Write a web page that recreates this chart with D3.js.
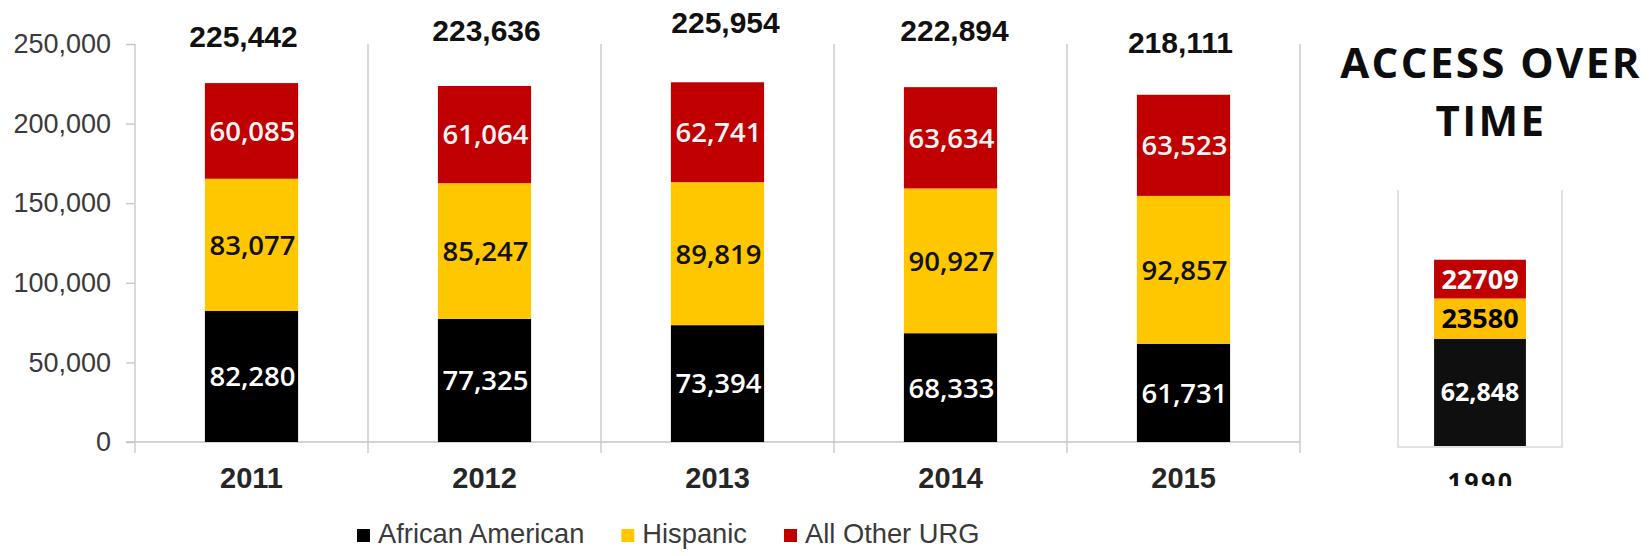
<!DOCTYPE html>
<html>
<head>
<meta charset="utf-8">
<script src="https://cdn.jsdelivr.net/npm/d3@7"></script>
<style>
  html, body { margin: 0; padding: 0; background: #ffffff; }
  svg { display: block; }
</style>
</head>
<body>
<svg id="chart" width="1652" height="556"></svg>
<script>
// Underrepresented-group enrollment, 2011-2015
const years = ["2011", "2012", "2013", "2014", "2015"];
const africanAmerican = [82280, 77325, 73394, 68333, 61731];
const hispanic = [83077, 85247, 89819, 90927, 92857];
const allOtherURG = [60085, 61064, 62741, 63634, 63523];
const totals = [225442, 223636, 225954, 222894, 218111];
const yTicks = [0, 50000, 100000, 150000, 200000, 250000];
const seriesNames = ["African American", "Hispanic", "All Other URG"];

// 1990 comparison bar
const years1990 = ["1990"];
const africanAmerican1990 = [62848];
const hispanic1990 = [23580];
const allOtherURG1990 = [22709];

const titleLines = ["ACCESS OVER", "TIME"];

// ---- styling ----
const colors = ["#000000", "#FFC700", "#C00000"];
const colors1990 = ["#0f0f0f", "#FFC000", "#C00000"];
const labelColors = ["#ffffff", "#111111", "#f4f4f4"];
const gridColor = "#c4c4c4";
const sansAxis = "'Liberation Sans', Arial, sans-serif";
const sansLabel = "'Open Sans', 'Noto Sans', sans-serif";

const svg = d3.select("#chart");

// ---- main stacked chart ----
const x = d3.scaleBand().domain(years).range([135, 1300])
  .paddingInner(0.6).paddingOuter(0.3);
const y = d3.scaleLinear().domain([0, 250000]).range([442, 44]);

const rows = years.map((yr, i) => ({
  year: yr, 0: africanAmerican[i], 1: hispanic[i], 2: allOtherURG[i]
}));
const stacked = d3.stack().keys([0, 1, 2])(rows);

const main = svg.append("g");

// category separators (first one doubles as the value axis line)
const bounds = d3.range(years.length + 1).map(i => x.range()[0] + i * x.step());
main.append("g").selectAll("line").data(bounds).join("line")
  .attr("x1", d => d).attr("x2", d => d)
  .attr("y1", y(250000)).attr("y2", y(0) + 11)
  .attr("stroke", gridColor).attr("stroke-width", 1.3);

// baseline
main.append("line")
  .attr("x1", x.range()[0] - 9).attr("x2", x.range()[1])
  .attr("y1", y(0)).attr("y2", y(0))
  .attr("stroke", gridColor).attr("stroke-width", 1.3);

// value axis
const yAxis = main.append("g")
  .attr("transform", `translate(${x.range()[0]},0)`)
  .call(d3.axisLeft(y).tickValues(yTicks).tickFormat(d3.format(","))
    .tickSize(9).tickPadding(15));
yAxis.select(".domain").remove();
yAxis.selectAll(".tick line").attr("stroke", gridColor).attr("stroke-width", 1.3);
yAxis.selectAll(".tick text")
  .attr("font-family", sansAxis).attr("font-size", 27).attr("fill", "#3a3a3a");

// category axis labels
const xAxis = main.append("g")
  .attr("transform", `translate(0,${y(0)})`)
  .call(d3.axisBottom(x).tickSize(0).tickPadding(25));
xAxis.select(".domain").remove();
xAxis.selectAll(".tick text")
  .attr("font-family", sansAxis).attr("font-size", 29)
  .attr("font-weight", "bold").attr("fill", "#262626");

// stacked segments
const layers = main.append("g").selectAll("g").data(stacked).join("g")
  .attr("fill", (d, i) => colors[i]);
layers.selectAll("rect").data(d => d).join("rect")
  .attr("x", d => x(d.data.year))
  .attr("width", x.bandwidth())
  .attr("y", d => y(d[1]))
  .attr("height", d => y(d[0]) - y(d[1]));

// segment value labels
const fmt = d3.format(",");
stacked.forEach((layer, li) => {
  main.append("g").selectAll("text").data(layer).join("text")
    .attr("x", d => x(d.data.year) + x.bandwidth() / 2 + 1)
    .attr("y", d => (y(d[0]) + y(d[1])) / 2)
    .attr("dy", "0.36em")
    .attr("text-anchor", "middle")
    .attr("font-family", sansLabel)
    .attr("font-size", 27.5)
    .attr("font-weight", 600)
    .attr("fill", labelColors[li])
    .text(d => fmt(d.data[li]));
});

// totals above each column (hand-placed text boxes)
const totalLift = [36, 45, 49, 46, 42];
const totalShift = [-8, 2, 8, 4, -3];
main.append("g").selectAll("text").data(years).join("text")
  .attr("x", (d, i) => x(d) + x.bandwidth() / 2 + totalShift[i])
  .attr("y", (d, i) => y(totals[i]) - totalLift[i])
  .attr("text-anchor", "middle")
  .attr("font-family", sansAxis)
  .attr("font-size", 30)
  .attr("font-weight", "bold")
  .attr("fill", "#111111")
  .text((d, i) => fmt(totals[i]));

// legend
const legend = svg.append("g").attr("transform", "translate(357,543)");
let lx = 0;
seriesNames.forEach((name, i) => {
  const g = legend.append("g").attr("transform", `translate(${lx},0)`);
  g.append("rect").attr("x", 0).attr("y", -14).attr("width", 13).attr("height", 13)
    .attr("fill", colors[i]);
  const t = g.append("text").attr("x", 21).attr("y", 0)
    .attr("font-family", sansAxis).attr("font-size", 27.3).attr("fill", "#3a3a3a")
    .text(name);
  lx += 21 + t.node().getComputedTextLength() + 37;
});

// ---- side panel: 1990 ----
const title = svg.append("g");
title.selectAll("text").data(titleLines).join("text")
  .attr("x", 1491).attr("y", (d, i) => 78 + i * 58)
  .attr("text-anchor", "middle")
  .attr("font-family", sansLabel).attr("font-size", 42)
  .attr("font-weight", "bold").attr("letter-spacing", 2.4)
  .attr("fill", "#0d0d0d")
  .text(d => d);

const x2 = d3.scaleBand().domain(years1990).range([1398, 1562])
  .paddingInner(0.44).paddingOuter(0.22);
const y2 = d3.scaleLinear().domain([0, 150000]).range([446, 190]);

const side = svg.append("g");
side.append("path")
  .attr("d", `M${x2.range()[0]},${y2(150000)}V${y2(0) + 1}H${x2.range()[1]}V${y2(150000)}`)
  .attr("fill", "none").attr("stroke", "#d9d9d9").attr("stroke-width", 1.5);

const rows1990 = years1990.map((yr, i) => ({
  year: yr, 0: africanAmerican1990[i], 1: hispanic1990[i], 2: allOtherURG1990[i]
}));
const stacked1990 = d3.stack().keys([0, 1, 2])(rows1990);
const fmt1990 = [d3.format(","), d3.format("d"), d3.format("d")];
const label1990Colors = ["#ffffff", "#000000", "#ffffff"];

stacked1990.forEach((layer, li) => {
  side.append("g").selectAll("rect").data(layer).join("rect")
    .attr("x", d => x2(d.data.year))
    .attr("width", x2.bandwidth())
    .attr("y", d => y2(d[1]))
    .attr("height", d => y2(d[0]) - y2(d[1]))
    .attr("fill", colors1990[li]);
  side.append("g").selectAll("text").data(layer).join("text")
    .attr("x", d => x2(d.data.year) + x2.bandwidth() / 2)
    .attr("y", d => (y2(d[0]) + y2(d[1])) / 2)
    .attr("dy", "0.36em")
    .attr("text-anchor", "middle")
    .attr("font-family", sansLabel)
    .attr("font-size", li === 0 ? 25 : 27)
    .attr("font-weight", "bold")
    .attr("fill", label1990Colors[li])
    .text(d => fmt1990[li](d.data[li]));
});

// year label, trimmed at the bottom edge of the panel
svg.append("defs").append("clipPath").attr("id", "panelClip")
  .append("rect").attr("x", 1380).attr("y", 150).attr("width", 260).attr("height", 336);
side.append("g").attr("clip-path", "url(#panelClip)")
  .selectAll("text").data(years1990).join("text")
  .attr("x", d => x2(d) + x2.bandwidth() / 2 + 1)
  .attr("y", 491)
  .attr("text-anchor", "middle")
  .attr("font-family", sansLabel).attr("font-size", 25)
  .attr("font-weight", "bold").attr("letter-spacing", 2.5)
  .attr("fill", "#111111")
  .text(d => d);
</script>
</body>
</html>
